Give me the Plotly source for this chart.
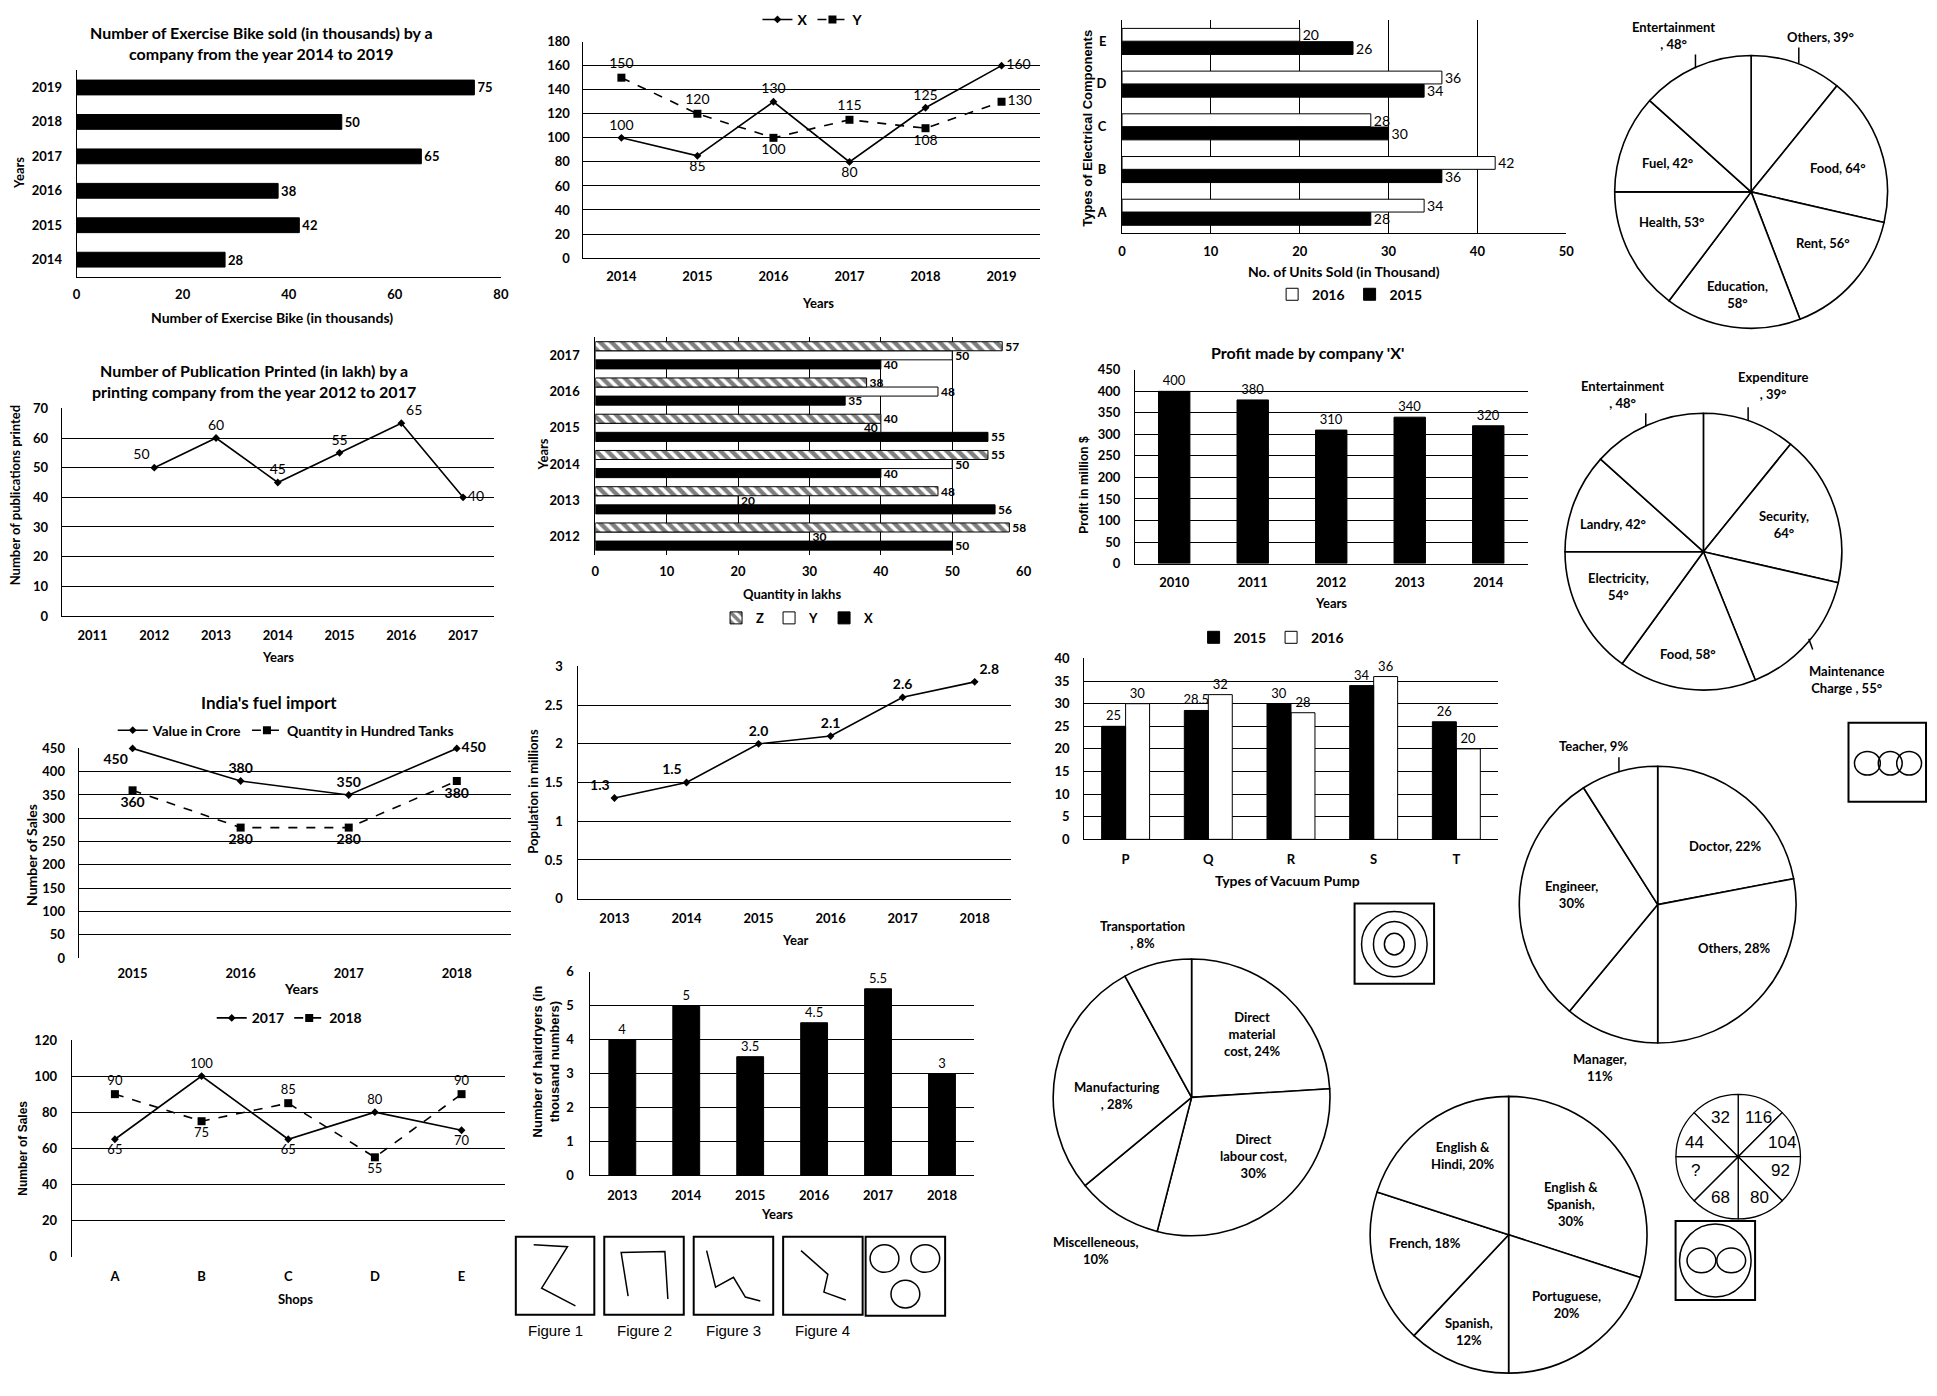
import plotly.graph_objects as go

W, H = 1937, 1396

# ---------------- data ----------------
bike_years = ["2014", "2015", "2016", "2017", "2018", "2019"]
bike_sold = [28, 42, 38, 65, 50, 75]

xy_years = ["2014", "2015", "2016", "2017", "2018", "2019"]
xy_x = [100, 85, 130, 80, 125, 160]
xy_y = [150, 120, 100, 115, 108, 130]

elec_types = ["A", "B", "C", "D", "E"]
elec_2016 = [34, 42, 28, 36, 20]
elec_2015 = [28, 36, 30, 34, 26]

budget_labels = ["Others", "Food", "Rent", "Education", "Health", "Fuel", "Entertainment"]
budget_degrees = [39, 64, 56, 58, 53, 42, 48]

pub_years = ["2011", "2012", "2013", "2014", "2015", "2016", "2017"]
pub_printed = [None, 50, 60, 45, 55, 65, 40]

zyx_years = ["2012", "2013", "2014", "2015", "2016", "2017"]
zyx_z = [58, 48, 55, 40, 38, 57]
zyx_y = [30, 20, 50, 40, 48, 50]
zyx_x = [50, 56, 40, 55, 35, 40]

profit_years = ["2010", "2011", "2012", "2013", "2014"]
profit_values = [400, 380, 310, 340, 320]

hostel_labels = ["Expenditure", "Security", "Maintenance Charge", "Food",
                 "Electricity", "Landry", "Entertainment"]
hostel_degrees = [39, 64, 55, 58, 54, 42, 48]

fuel_years = ["2015", "2016", "2017", "2018"]
fuel_value = [450, 380, 350, 450]
fuel_quantity = [360, 280, 280, 380]

pop_years = ["2013", "2014", "2015", "2016", "2017", "2018"]
pop_millions = [1.3, 1.5, 2.0, 2.1, 2.6, 2.8]

pump_types = ["P", "Q", "R", "S", "T"]
pump_2015 = [25, 28.5, 30, 34, 26]
pump_2016 = [30, 32, 28, 36, 20]

prof_labels = ["Doctor", "Others", "Manager", "Engineer", "Teacher"]
prof_pct = [22, 28, 11, 30, 9]

shops = ["A", "B", "C", "D", "E"]
shops_2017 = [65, 100, 65, 80, 70]
shops_2018 = [90, 75, 85, 55, 90]

hair_years = ["2013", "2014", "2015", "2016", "2017", "2018"]
hair_thousands = [4, 5, 3.5, 4.5, 5.5, 3]

cost_labels = ["Direct material cost", "Direct labour cost", "Miscelleneous",
               "Manufacturing", "Transportation"]
cost_pct = [24, 30, 10, 28, 8]

lang_labels = ["English & Spanish", "Portuguese", "Spanish", "French", "English & Hindi"]
lang_pct = [30, 20, 12, 18, 20]

wheel_numbers = ["116", "104", "92", "80", "68", "?", "44", "32"]
wheel_sizes = [1, 1, 1, 1, 1, 1, 1, 1]

figure_names = ["Figure 1", "Figure 2", "Figure 3", "Figure 4"]

# ---------------- helpers ----------------
def fx(p):
    return p / W


def fy(p):
    return 1 - p / H


FAM = "Lato"
TICK = dict(family=FAM, size=13, color="black", weight="bold")


def font(size=13, bold=True, family=FAM):
    return dict(family=family, size=size, color="black", weight="bold" if bold else "normal")


def num_axis(lo, hi, anchor, rng, dtick, grid=True, line=True, standoff=8, horiz=True):
    return dict(domain=[fx(lo), fx(hi)] if horiz else [fy(hi), fy(lo)],
                anchor=anchor, range=rng, dtick=dtick, tick0=0,
                showgrid=grid, gridcolor="black", gridwidth=1,
                showline=line, linecolor="black", linewidth=1,
                zeroline=False, ticks="", tickfont=TICK, ticklabelstandoff=standoff,
                fixedrange=True)


def cat_axis(lo, hi, anchor, cats, line=True, standoff=8, horiz=True):
    return dict(domain=[fx(lo), fx(hi)] if horiz else [fy(hi), fy(lo)],
                anchor=anchor, type="category", categoryorder="array",
                categoryarray=cats, range=[-0.5, len(cats) - 0.5],
                showgrid=False, showline=line, linecolor="black", linewidth=1,
                zeroline=False, ticks="", tickfont=TICK, ticklabelstandoff=standoff,
                fixedrange=True)


fig = go.Figure()
axes = {}
annots = []
shapes = []


def ann(text, x, y, size=13, bold=True, angle=0, family=FAM):
    annots.append(dict(text=text, x=fx(x), y=fy(y), xref="paper", yref="paper",
                       showarrow=False, xanchor="center", yanchor="middle",
                       textangle=angle, font=font(size, bold, family), align="center"))


def seg(x0, y0, x1, y1, w=1.5):
    shapes.append(dict(type="line", xref="paper", yref="paper", x0=fx(x0), y0=fy(y0),
                       x1=fx(x1), y1=fy(y1), line=dict(color="black", width=w)))


def rect(x0, y0, x1, y1, w=2):
    shapes.append(dict(type="rect", xref="paper", yref="paper", x0=fx(x0), y0=fy(y1),
                       x1=fx(x1), y1=fy(y0), line=dict(color="black", width=w)))


def ell(cx, cy, rx, ry, w=1.5):
    shapes.append(dict(type="circle", xref="paper", yref="paper", x0=fx(cx - rx),
                       y0=fy(cy + ry), x1=fx(cx + rx), y1=fy(cy - ry),
                       line=dict(color="black", width=w)))


def poly(pts, w=1.5):
    path = "M " + " L ".join(f"{fx(a):.5f},{fy(b):.5f}" for a, b in pts)
    shapes.append(dict(type="path", xref="paper", yref="paper", path=path,
                       line=dict(color="black", width=w)))


def pie_text(label, value, unit, breaks, mode):
    words = label.split(" ")
    lines, cur = [], []
    for i, wd in enumerate(words):
        cur.append(wd)
        if i in breaks:
            lines.append(" ".join(cur))
            cur = []
    if cur:
        lines.append(" ".join(cur))
    v = f"{value}{unit}"
    if mode == "same":
        lines[-1] += f", {v}"
    elif mode == "next":
        lines[-1] += ","
        lines.append(v)
    elif mode == "sep":
        lines.append(f", {v}")
    elif mode == "space":
        lines[-1] += f" , {v}"
    return "<br>".join(lines)


def add_pie(labels, values, cx, cy, r, lw=1.6):
    fig.add_trace(go.Pie(values=values, labels=labels, sort=False, direction="clockwise",
                         rotation=0, textinfo="none", hoverinfo="skip",
                         marker=dict(colors=["white"] * len(values),
                                     line=dict(color="black", width=lw)),
                         domain=dict(x=[fx(cx - r), fx(cx + r)], y=[fy(cy + r), fy(cy - r)]),
                         showlegend=False))


BLACK = dict(color="black", line=dict(color="black", width=1))
WHITE = dict(color="white", line=dict(color="black", width=1))
HATCH = dict(color="white", line=dict(color="black", width=1),
             pattern=dict(shape="\\", fgcolor="black", bgcolor="white",
                          size=8, solidity=0.55))


def bar(**kw):
    kw.setdefault("textposition", "outside")
    kw.setdefault("cliponaxis", False)
    kw.setdefault("constraintext", "none")
    kw.setdefault("textangle", 0)
    return go.Bar(**kw)


# ---------------- 1: exercise bikes ----------------
axes["xaxis"] = num_axis(73, 500, "y", [0, 80], 20, grid=False, standoff=6)
axes["yaxis"] = cat_axis(63, 272, "x", bike_years, horiz=False, standoff=11)
fig.add_trace(bar(x=bike_sold, y=bike_years, orientation="h", marker=BLACK, width=0.43,
                  text=bike_sold, textfont=font(13, True), showlegend=False,
                  xaxis="x", yaxis="y"))
ann("Number of Exercise Bike sold (in thousands) by a<br>company from the year 2014 to 2019",
    259, 35, 16)
ann("Number of Exercise Bike (in thousands)", 270, 313, 14)
ann("Years", 15, 167, 13, angle=-90)

# ---------------- 2: X / Y lines ----------------
axes["xaxis2"] = cat_axis(583, 1042, "y2", xy_years, standoff=6)
axes["yaxis2"] = num_axis(34, 253, "x2", [0, 180], 20, standoff=10, horiz=False)
fig.add_trace(go.Scatter(x=xy_years, y=xy_x, name="X", mode="lines+markers+text",
                         line=dict(color="black", width=1.6),
                         marker=dict(symbol="diamond", size=6, color="black"),
                         text=xy_x, textfont=font(14, False),
                         textposition=["top center", "bottom center", "top center",
                                       "bottom center", "top center", "middle right"],
                         cliponaxis=False, xaxis="x2", yaxis="y2", legend="legend"))
fig.add_trace(go.Scatter(x=xy_years, y=xy_y, name="Y", mode="lines+markers+text",
                         line=dict(color="black", width=1.6, dash="dash"),
                         marker=dict(symbol="square", size=8, color="black"),
                         text=xy_y, textfont=font(14, False),
                         textposition=["top center", "top center", "bottom center",
                                       "top center", "bottom center", "middle right"],
                         cliponaxis=False, xaxis="x2", yaxis="y2", legend="legend"))
ann("Years", 819, 298, 13)

# ---------------- 3: electrical components ----------------
axes["xaxis3"] = num_axis(1125, 1572, "y3", [0, 50], 10, standoff=6)
axes["yaxis3"] = cat_axis(12, 228, "x3", elec_types, horiz=False, standoff=12)
fig.add_trace(bar(x=elec_2015, y=elec_types, orientation="h", name="2015", marker=BLACK,
                  width=0.3, offset=-0.31, text=elec_2015, textfont=font(14, False),
                  xaxis="x3", yaxis="y3", legend="legend2", legendrank=2))
fig.add_trace(bar(x=elec_2016, y=elec_types, orientation="h", name="2016", marker=WHITE,
                  width=0.3, offset=0.0, text=elec_2016, textfont=font(14, False),
                  xaxis="x3", yaxis="y3", legend="legend2", legendrank=1))
ann("Types of Electrical Components", 1090, 122, 13, angle=-90, family="Liberation Sans")
ann("No. of Units Sold (in Thousand)", 1348, 267, 14)

# ---------------- 4: publications ----------------
axes["xaxis4"] = cat_axis(58, 493, "y4", pub_years, standoff=7)
axes["yaxis4"] = num_axis(405, 615, "x4", [0, 70], 10, standoff=10, horiz=False)
fig.add_trace(go.Scatter(x=pub_years, y=pub_printed, mode="lines+markers+text",
                         line=dict(color="black", width=1.6),
                         marker=dict(symbol="diamond", size=6, color="black"),
                         text=["" if v is None else v for v in pub_printed],
                         textfont=font(14, False),
                         textposition=["top center", "top left", "top center", "top center",
                                       "top center", "top right", "middle right"],
                         cliponaxis=False, showlegend=False, xaxis="x4", yaxis="y4"))
ann("Number of Publication Printed (in lakh) by a<br>printing company from the year 2012 to 2017",
    252, 377, 16)
ann("Number of publications printed", 11, 493, 13, angle=-90)
ann("Years", 276, 657, 13)

# ---------------- 5: Z / Y / X bars ----------------
axes["xaxis5"] = num_axis(595, 1026, "y5", [0, 60], 10, line=False, standoff=7)
axes["yaxis5"] = cat_axis(333, 553, "x5", zyx_years, horiz=False, standoff=12)
fig.add_trace(bar(x=zyx_x, y=zyx_years, orientation="h", name="X", marker=BLACK,
                  width=0.25, offset=-0.375, text=zyx_x, textfont=font(12, True),
                  xaxis="x5", yaxis="y5", legend="legend3", legendrank=3))
fig.add_trace(bar(x=zyx_y, y=zyx_years, orientation="h", name="Y", marker=WHITE,
                  width=0.25, offset=-0.125, text=zyx_y, textfont=font(12, True),
                  textposition=["outside", "outside", "outside", "inside", "outside", "outside"],
                  insidetextanchor="end", insidetextfont=font(12, True),
                  outsidetextfont=font(12, True),
                  xaxis="x5", yaxis="y5", legend="legend3", legendrank=2))
fig.add_trace(bar(x=zyx_z, y=zyx_years, orientation="h", name="Z", marker=HATCH,
                  width=0.25, offset=0.125, text=zyx_z, textfont=font(12, True),
                  xaxis="x5", yaxis="y5", legend="legend3", legendrank=1))
ann("Years", 542, 452, 13, angle=-90)
ann("Quantity in lakhs", 793, 593, 13)

# ---------------- 6: profit ----------------
axes["xaxis6"] = cat_axis(1138, 1533, "y6", profit_years, standoff=7)
axes["yaxis6"] = num_axis(366, 562, "x6", [0, 450], 50, standoff=11, horiz=False)
fig.add_trace(bar(x=profit_years, y=profit_values, marker=BLACK, width=0.4,
                  text=profit_values, textfont=font(13, False), showlegend=False,
                  xaxis="x6", yaxis="y6"))
ann("Profit made by company 'X'", 1312, 348, 16)
ann("Profit in million $", 1087, 482, 12, angle=-90, family="Liberation Sans")
ann("Years", 1335, 602, 13)

# ---------------- 7: fuel import ----------------
axes["xaxis7"] = cat_axis(75, 510, "y7", fuel_years, line=False, standoff=6)
axes["yaxis7"] = num_axis(749, 961, "x7", [0, 450], 50, standoff=10, horiz=False)
fig.add_trace(go.Scatter(x=fuel_years, y=fuel_value, name="Value in Crore",
                         mode="lines+markers+text", line=dict(color="black", width=1.6),
                         marker=dict(symbol="diamond", size=6, color="black"),
                         text=fuel_value, textfont=font(14, True),
                         textposition=["bottom left", "top center", "top center", "middle right"],
                         cliponaxis=False, xaxis="x7", yaxis="y7", legend="legend4"))
fig.add_trace(go.Scatter(x=fuel_years, y=fuel_quantity, name="Quantity in Hundred Tanks",
                         mode="lines+markers+text",
                         line=dict(color="black", width=1.6, dash="dash"),
                         marker=dict(symbol="square", size=8, color="black"),
                         text=fuel_quantity, textfont=font(14, True),
                         textposition=["bottom center"] * 4,
                         cliponaxis=False, xaxis="x7", yaxis="y7", legend="legend4"))
ann("India's fuel import", 267, 703, 17)
ann("Number of Sales", 27, 857, 14, angle=-90)
ann("Years", 299, 992, 14)

# ---------------- 8: population ----------------
axes["xaxis8"] = cat_axis(578, 1013, "y8", pop_years, standoff=8)
axes["yaxis8"] = num_axis(666, 901, "x8", [0, 3], 0.5, standoff=12, horiz=False)
fig.add_trace(go.Scatter(x=pop_years, y=pop_millions, mode="lines+markers+text",
                         line=dict(color="black", width=1.6),
                         marker=dict(symbol="diamond", size=6, color="black"),
                         texttemplate="%{y:.1f}", textfont=font(14, True),
                         textposition=["top left", "top left", "top center", "top center",
                                       "top center", "top right"],
                         cliponaxis=False, showlegend=False, xaxis="x8", yaxis="y8"))
ann("Population in millions", 532, 792, 13, angle=-90)
ann("Year", 796, 943, 13)

# ---------------- 9: vacuum pumps ----------------
axes["xaxis9"] = cat_axis(1087, 1503, "y9", pump_types, standoff=8)
axes["yaxis9"] = num_axis(658, 841, "x9", [0, 40], 5, standoff=11, horiz=False)
fig.add_trace(bar(x=pump_types, y=pump_2016, name="2016", marker=WHITE, width=0.29,
                  offset=0.0, text=pump_2016, textfont=font(13, False),
                  xaxis="x9", yaxis="y9", legend="legend5", legendrank=2))
fig.add_trace(bar(x=pump_types, y=pump_2015, name="2015", marker=BLACK, width=0.29,
                  offset=-0.29, text=pump_2015, textfont=font(13, False),
                  xaxis="x9", yaxis="y9", legend="legend5", legendrank=1))
ann("Types of Vacuum Pump", 1292, 883, 14)

# ---------------- 10: shops ----------------
axes["xaxis10"] = cat_axis(68, 504, "y10", shops, line=False, standoff=10)
axes["yaxis10"] = num_axis(1044, 1263, "x10", [0, 120], 20, standoff=11, horiz=False)
fig.add_trace(go.Scatter(x=shops, y=shops_2017, name="2017", mode="lines+markers+text",
                         line=dict(color="black", width=1.6),
                         marker=dict(symbol="diamond", size=6, color="black"),
                         text=shops_2017, textfont=font(13, False),
                         textposition=["bottom center", "top center", "bottom center",
                                       "top center", "bottom center"],
                         cliponaxis=False, xaxis="x10", yaxis="y10", legend="legend6"))
fig.add_trace(go.Scatter(x=shops, y=shops_2018, name="2018", mode="lines+markers+text",
                         line=dict(color="black", width=1.6, dash="dash"),
                         marker=dict(symbol="square", size=8, color="black"),
                         text=shops_2018, textfont=font(13, False),
                         textposition=["top center", "bottom center", "top center",
                                       "bottom center", "top center"],
                         cliponaxis=False, xaxis="x10", yaxis="y10", legend="legend6"))
ann("Number of Sales", 19, 1153, 12, angle=-90, family="Liberation Sans")
ann("Shops", 293, 1306, 13)

# ---------------- 11: hairdryers ----------------
axes["xaxis11"] = cat_axis(590, 976, "y11", hair_years, standoff=8)
axes["yaxis11"] = num_axis(975, 1181, "x11", [0, 6], 1, standoff=13, horiz=False)
fig.add_trace(bar(x=hair_years, y=hair_thousands, marker=BLACK, width=0.42,
                  text=hair_thousands, textfont=font(13, False), showlegend=False,
                  xaxis="x11", yaxis="y11"))
ann("Number of hairdryers (in<br>thousand numbers)", 545, 1066, 13, angle=-90,
    family="Liberation Sans")
ann("Years", 778, 1220, 13)

# ---------------- pies ----------------
add_pie(budget_labels, budget_degrees, 1758, 186, 138)
budget_style = [(1828, 29, [], "same"), (1845, 162, [], "same"), (1830, 238, [], "same"),
                (1744, 290, [], "next"), (1678, 216, [], "same"), (1674, 157, [], "same"),
                (1680, 28, [], "sep")]
for lab, v, (x, y, b, m) in zip(budget_labels, budget_degrees, budget_style):
    ann(pie_text(lab, v, "°", b, m), x, y, 13)
seg(1702, 47, 1702, 61)
seg(1806, 40, 1806, 56)

add_pie(hostel_labels, hostel_degrees, 1710, 550, 140)
hostel_style = [(1780, 382, [], "sep"), (1791, 522, [], "next"), (1854, 679, [0], "space"),
                (1695, 653, [], "same"), (1625, 585, [], "next"), (1619, 522, [], "same"),
                (1629, 391, [], "sep")]
for lab, v, (x, y, b, m) in zip(hostel_labels, hostel_degrees, hostel_style):
    ann(pie_text(lab, v, "°", b, m), x, y, 13)
seg(1652, 410, 1652, 423)
seg(1755, 404, 1755, 417)
seg(1816, 638, 1820, 649)

add_pie(prof_labels, prof_pct, 1664, 907, 140)
prof_style = [(1732, 848, [], "same"), (1741, 951, [], "same"), (1606, 1072, [], "next"),
              (1577, 897, [], "next"), (1599, 747, [], "same")]
for lab, v, (x, y, b, m) in zip(prof_labels, prof_pct, prof_style):
    ann(pie_text(lab, v, "%", b, m), x, y, 13)
seg(1625, 758, 1625, 773)

add_pie(cost_labels, cost_pct, 1195, 1102, 140)
cost_style = [(1256, 1038, [0, 1], "same"), (1257, 1161, [0], "next"),
              (1099, 1257, [], "next"), (1120, 1100, [], "sep"), (1146, 937, [], "sep")]
for lab, v, (x, y, b, m) in zip(cost_labels, cost_pct, cost_style):
    ann(pie_text(lab, v, "%", b, m), x, y, 13)

add_pie(lang_labels, lang_pct, 1514, 1241, 140)
lang_style = [(1577, 1210, [1], "next"), (1572, 1312, [], "next"), (1474, 1339, [], "next"),
              (1430, 1249, [], "same"), (1468, 1161, [1], "same")]
for lab, v, (x, y, b, m) in zip(lang_labels, lang_pct, lang_style):
    ann(pie_text(lab, v, "%", b, m), x, y, 13)

add_pie(wheel_numbers, wheel_sizes, 1745, 1162, 63, lw=1.3)
wheel_pos = [(1765, 1122), (1789, 1148), (1788, 1176), (1766, 1203),
             (1727, 1203), (1702, 1176), (1701, 1148), (1727, 1122)]
for t, (x, y) in zip(wheel_numbers, wheel_pos):
    ann(t, x, y, 17, bold=False, family="Liberation Sans Narrow, Liberation Sans")

# ---------------- figure puzzles ----------------
fig_boxes = [(515, 1243, 594, 1322), (604, 1243, 684, 1322),
             (694, 1243, 774, 1322), (784, 1243, 864, 1322)]
fig_paths = [
    [(533, 1251), (567, 1253), (541, 1295), (575, 1313)],
    [(628, 1303), (621, 1259), (665, 1258), (668, 1306)],
    [(707, 1257), (716, 1294), (734, 1284), (746, 1304), (761, 1308)],
    [(802, 1257), (829, 1281), (825, 1299), (847, 1307)],
]
for name, bx, pts in zip(figure_names, fig_boxes, fig_paths):
    rect(*bx)
    poly(pts)
    ann(name, (bx[0] + bx[2]) / 2, 1338, 15, bold=False, family="Liberation Sans")
rect(867, 1243, 947, 1323)
ell(886, 1265, 14.5, 14)
ell(927, 1265, 14.5, 14)
ell(907, 1301, 14.5, 14)

rect(1856, 723, 1934, 803)
ell(1875, 764, 13, 12)
ell(1898, 764, 12, 12)
ell(1917, 764, 12.5, 12)

rect(1359, 906, 1439, 987)
ell(1399, 947, 33, 33)
ell(1399, 947, 21, 23)
ell(1399, 947, 10, 11)

rect(1682, 1227, 1762, 1307)
ell(1722, 1267, 36, 37)
ell(1708, 1267, 14.5, 12.5)
ell(1738, 1267, 14.5, 12.5)


# ---------------- legends ----------------
def leg(cx, cy, size=14):
    return dict(x=fx(cx), y=fy(cy), xanchor="center", yanchor="middle", orientation="h",
                font=font(size, True), bgcolor="rgba(0,0,0,0)", borderwidth=0,
                itemclick=False, itemdoubleclick=False)


fig.update_layout(
    width=W, height=H, margin=dict(l=0, r=0, t=0, b=0, pad=0),
    paper_bgcolor="white", plot_bgcolor="white",
    barmode="overlay", hovermode=False, showlegend=True,
    font=dict(family=FAM, color="black"),
    legend=leg(814, 12),
    legend2=leg(1354, 290),
    legend3=leg(798, 617, 13),
    legend4=leg(284, 731),
    legend5=leg(1275, 637),
    legend6=leg(287, 1022),
    annotations=annots, shapes=shapes,
    **axes,
)

fig.write_html("out.html")
